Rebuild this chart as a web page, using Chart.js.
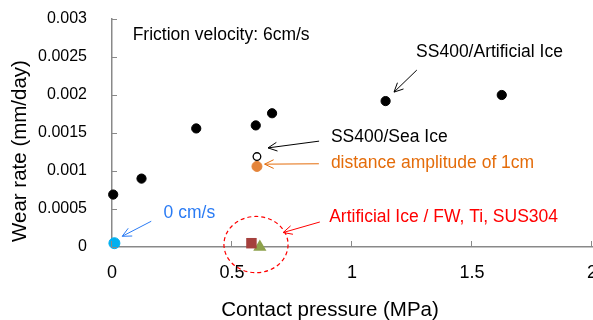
<!DOCTYPE html>
<html>
<head>
<meta charset="utf-8">
<script src="https://cdn.jsdelivr.net/npm/chart.js@4.4.1/dist/chart.umd.min.js"></script>
<style>
  html, body { margin: 0; padding: 0; background: #fff; }
  #wrap { width: 593px; height: 320px; }
</style>
</head>
<body>
<div id="wrap"><canvas id="wearChart" width="593" height="320"></canvas></div>
<script>
// Wear rate vs contact pressure
const artificialX = [0.005, 0.123, 0.351, 0.599, 0.667, 1.14, 1.624];
const artificialY = [0.00069, 0.0009, 0.00156, 0.0016, 0.00176, 0.00192, 0.002];
const seaIceX = [0.604];
const seaIceY = [0.00119];
const amplitudeX = [0.604];
const amplitudeY = [0.00106];
const zeroVelX = [0.01];
const zeroVelY = [0.00005];
const fwX = [0.581];
const fwY = [0.00005];
const tiX = [0.616];
const tiY = [0];

const xTickLabels = ['0', '0.5', '1', '1.5', '2'];
const yTickLabels = ['0', '0.0005', '0.001', '0.0015', '0.002', '0.0025', '0.003'];

const FONT = '"Liberation Sans", Arial, sans-serif';

// labels and arrows, placed in data coordinates
const notes = [
    { text: 'Friction velocity: 6cm/s', x: 0.086, y: 0.00279, color: '#000000' },
    { text: 'SS400/Artificial Ice', x: 1.267, y: 0.002565, color: '#000000' },
    { text: 'SS400/Sea Ice', x: 0.912, y: 0.001445, color: '#000000' },
    { text: 'distance amplitude of 1cm', x: 0.912, y: 0.0011, color: '#E46C0A' },
    { text: '0 cm/s', x: 0.215, y: 0.000448, color: '#2A7BF4' },
    { text: 'Artificial Ice / FW, Ti, SUS304', x: 0.905, y: 0.000387, color: '#FF0000' }
];
const arrows = [
    { from: [1.27, 0.002328], to: [1.175, 0.002038], color: '#000000' },
    { from: [0.863, 0.001393], to: [0.65, 0.001304], color: '#000000' },
    { from: [0.862, 0.001095], to: [0.636, 0.00109], color: '#E46C0A' },
    { from: [0.1636, 0.000339], to: [0.0426, 0.000141], color: '#2A7BF4' },
    { from: [0.866, 0.000329], to: [0.713, 0.00019], color: '#FF0000' }
];
const ring = { x: 0.6, y: 0.000032, rx: 0.1336, ry: 0.00037 };

function toPoints(xs, ys) {
    return xs.map((x, i) => ({ x: x, y: ys[i] }));
}

const annotate = {
    id: 'annotate',
    afterDraw(chart) {
        const ctx = chart.ctx;
        const xs = chart.scales.x;
        const ys = chart.scales.y;
        const area = chart.chartArea;

        // inside tick marks
        ctx.save();
        ctx.strokeStyle = '#898989';
        ctx.lineWidth = 1;
        ys.ticks.forEach(t => {
            const py = Math.round(ys.getPixelForValue(t.value)) + 0.5;
            ctx.beginPath();
            ctx.moveTo(area.left, py);
            ctx.lineTo(area.left + 5, py);
            ctx.stroke();
        });
        xs.ticks.forEach(t => {
            const px = Math.round(xs.getPixelForValue(t.value)) - 0.5;
            ctx.beginPath();
            ctx.moveTo(px, area.bottom);
            ctx.lineTo(px, area.bottom - 6);
            ctx.stroke();
        });

        // x tick labels (last one runs off the edge, like the original crop)
        ctx.fillStyle = '#000000';
        ctx.font = '18px ' + FONT;
        ctx.textAlign = 'center';
        ctx.textBaseline = 'middle';
        xs.ticks.forEach((t, i) => {
            ctx.fillText(xTickLabels[i], xs.getPixelForValue(t.value), 273);
        });

        // arrows with open heads
        arrows.forEach(a => {
            const x1 = xs.getPixelForValue(a.from[0]), y1 = ys.getPixelForValue(a.from[1]);
            const x2 = xs.getPixelForValue(a.to[0]), y2 = ys.getPixelForValue(a.to[1]);
            const ang = Math.atan2(y2 - y1, x2 - x1);
            ctx.strokeStyle = a.color;
            ctx.lineWidth = 1;
            ctx.beginPath();
            ctx.moveTo(x1, y1);
            ctx.lineTo(x2, y2);
            ctx.moveTo(x2 - 10 * Math.cos(ang - 0.45), y2 - 10 * Math.sin(ang - 0.45));
            ctx.lineTo(x2, y2);
            ctx.lineTo(x2 - 10 * Math.cos(ang + 0.45), y2 - 10 * Math.sin(ang + 0.45));
            ctx.stroke();
        });

        // dashed ring round the near-zero points
        const cx = xs.getPixelForValue(ring.x), cy = ys.getPixelForValue(ring.y);
        const rx = xs.getPixelForValue(ring.x + ring.rx) - cx;
        const ry = cy - ys.getPixelForValue(ring.y + ring.ry);
        ctx.strokeStyle = '#FF0000';
        ctx.lineWidth = 1.2;
        ctx.setLineDash([4, 3]);
        ctx.beginPath();
        ctx.ellipse(cx, cy, rx, ry, 0, 0, Math.PI * 2);
        ctx.stroke();
        ctx.setLineDash([]);

        // text labels
        ctx.font = '17.5px ' + FONT;
        ctx.textAlign = 'left';
        notes.forEach(n => {
            ctx.fillStyle = n.color;
            ctx.fillText(n.text, xs.getPixelForValue(n.x), ys.getPixelForValue(n.y));
        });

        // axis titles (Excel places them off-centre)
        ctx.fillStyle = '#000000';
        ctx.font = '20.5px ' + FONT;
        ctx.textAlign = 'center';
        ctx.fillText('Contact pressure (MPa)', 330, 310);
        ctx.translate(20, 151);
        ctx.rotate(-Math.PI / 2);
        ctx.fillText('Wear rate (mm/day)', 0, 0);
        ctx.restore();
    }
};

function noPad(scale) {
    scale.paddingLeft = 0;
    scale.paddingRight = 0;
    scale.paddingTop = 0;
    scale.paddingBottom = 0;
}

new Chart(document.getElementById('wearChart'), {
    type: 'scatter',
    data: {
        datasets: [
            {
                label: 'SS400/Artificial Ice',
                data: toPoints(artificialX, artificialY),
                backgroundColor: '#000000',
                borderColor: '#000000',
                pointRadius: 4.6,
                borderWidth: 1
            },
            {
                label: 'SS400/Sea Ice',
                data: toPoints(seaIceX, seaIceY),
                backgroundColor: '#FFFFFF',
                borderColor: '#000000',
                pointRadius: 3.8,
                borderWidth: 1.3
            },
            {
                label: 'distance amplitude of 1cm',
                data: toPoints(amplitudeX, amplitudeY),
                backgroundColor: '#E4843A',
                borderColor: '#E4843A',
                pointRadius: 5,
                borderWidth: 1
            },
            {
                label: '0 cm/s',
                data: toPoints(zeroVelX, zeroVelY),
                backgroundColor: '#00B0F0',
                borderColor: '#00B0F0',
                pointRadius: 5.5,
                borderWidth: 1
            },
            {
                label: 'FW',
                data: toPoints(fwX, fwY),
                pointStyle: 'rect',
                backgroundColor: '#A5403D',
                borderColor: '#A5403D',
                pointRadius: 7.4,
                borderWidth: 0
            },
            {
                label: 'Ti',
                data: toPoints(tiX, tiY),
                pointStyle: 'triangle',
                backgroundColor: '#8DA14B',
                borderColor: '#8DA14B',
                pointRadius: 7.6,
                borderWidth: 0
            }
        ]
    },
    options: {
        responsive: false,
        animation: false,
        devicePixelRatio: 1,
        clip: false,
        layout: {
            autoPadding: false,
            padding: { left: 0, right: 1, top: 19, bottom: 0 }
        },
        plugins: {
            legend: { display: false },
            tooltip: { enabled: false }
        },
        scales: {
            x: {
                type: 'linear',
                min: 0,
                max: 2,
                grid: { display: false },
                border: { display: true, color: '#898989', width: 1.5 },
                ticks: {
                    stepSize: 0.5,
                    autoSkip: false,
                    display: false
                },
                afterFit(scale) {
                    scale.height = 73;
                    noPad(scale);
                }
            },
            y: {
                type: 'linear',
                min: 0,
                max: 0.003,
                grid: { display: false },
                border: { display: true, color: '#898989', width: 1.5 },
                ticks: {
                    stepSize: 0.0005,
                    autoSkip: false,
                    padding: 17,
                    color: '#000000',
                    font: { family: FONT, size: 16 },
                    callback: (v, i) => yTickLabels[i]
                },
                afterFit(scale) {
                    scale.width = 112;
                    noPad(scale);
                }
            }
        }
    },
    plugins: [annotate]
});
</script>
</body>
</html>
